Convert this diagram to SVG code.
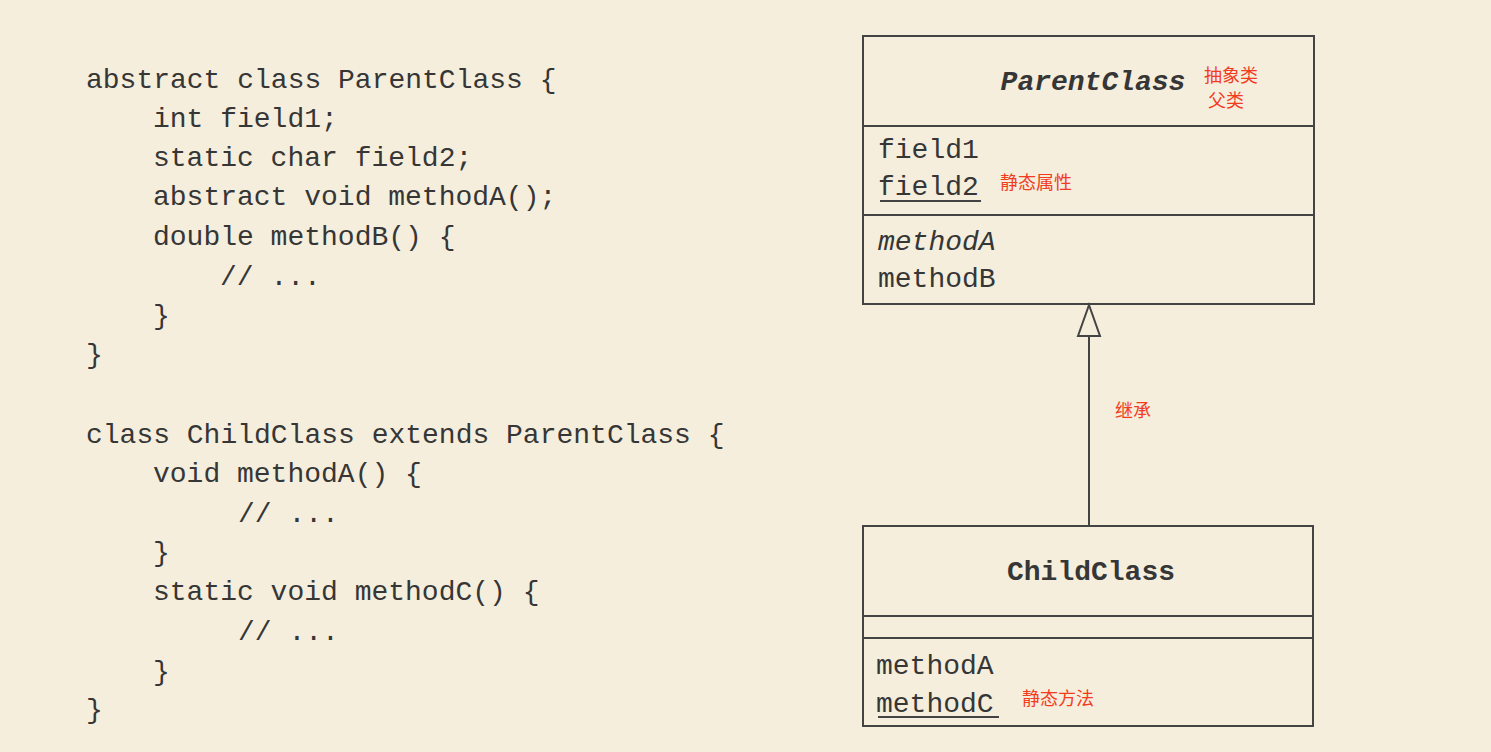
<svg xmlns="http://www.w3.org/2000/svg" width="1491" height="752" viewBox="0 0 1491 752">
  <style>
    .code { font-family: "Liberation Mono", "Courier New", monospace; font-size: 28px; fill: #363636; }
    .uml { font-family: "Liberation Mono", "Courier New", monospace; font-size: 28px; fill: #363636; }
    .title { font-weight: bold; }
    .ital { font-style: italic; }
    .note { font-family: "Noto Sans CJK SC", "Noto Sans", sans-serif; font-size: 18px; fill: #f23c1e; }
    .box { fill: none; stroke: #444; stroke-width: 2; }
    .ln { stroke: #444; stroke-width: 2; fill: none; }
    .ul { stroke: #444; stroke-width: 2; }
  </style>
  <rect x="0" y="0" width="1491" height="752" fill="#f5eedd"/>

  <g id="code-parent">
    <text class="code" x="86" y="88">abstract class ParentClass {</text>
    <text class="code" x="153" y="127">int field1;</text>
    <text class="code" x="153" y="166">static char field2;</text>
    <text class="code" x="153" y="205">abstract void methodA();</text>
    <text class="code" x="153" y="245">double methodB() {</text>
    <text class="code" x="220" y="285">// ...</text>
    <text class="code" x="153" y="324">}</text>
    <text class="code" x="86" y="363">}</text>
  </g>

  <g id="code-child">
    <text class="code" x="86" y="443">class ChildClass extends ParentClass {</text>
    <text class="code" x="153" y="482">void methodA() {</text>
    <text class="code" x="238" y="522">// ...</text>
    <text class="code" x="153" y="561">}</text>
    <text class="code" x="153" y="600">static void methodC() {</text>
    <text class="code" x="238" y="640">// ...</text>
    <text class="code" x="153" y="680">}</text>
    <text class="code" x="86" y="718">}</text>
  </g>

  <g id="ParentClass">
    <rect class="box" x="863" y="36" width="451" height="268"/>
    <line class="ln" x1="863" y1="126" x2="1314" y2="126"/>
    <line class="ln" x1="863" y1="215" x2="1314" y2="215"/>
    <text class="uml title ital" x="1093" y="90" text-anchor="middle">ParentClass</text>
    <text class="note" x="1204" y="82">抽象类</text>
    <text class="note" x="1208" y="107">父类</text>
    <text class="uml" x="878" y="158">field1</text>
    <text class="uml" x="878" y="195">field2</text>
    <line class="ul" x1="880" y1="201" x2="981" y2="201"/>
    <text class="note" x="1000" y="189">静态属性</text>
    <text class="uml ital" x="878" y="250">methodA</text>
    <text class="uml" x="878" y="287">methodB</text>
  </g>

  <g id="ChildClass">
    <rect class="box" x="863" y="526" width="450" height="200"/>
    <line class="ln" x1="863" y1="616" x2="1313" y2="616"/>
    <line class="ln" x1="863" y1="638" x2="1313" y2="638"/>
    <text class="uml title" x="1091" y="580" text-anchor="middle">ChildClass</text>
    <text class="uml" x="876" y="674">methodA</text>
    <text class="uml" x="876" y="712">methodC</text>
    <line class="ul" x1="878" y1="717" x2="999" y2="717"/>
    <text class="note" x="1022" y="705">静态方法</text>
  </g>

  <g id="connectors">
    <line class="ln" x1="1089" y1="336" x2="1089" y2="526"/>
    <polygon class="ln" points="1089,305 1078,336 1100,336"/>
    <text class="note" x="1115" y="417">继承</text>
  </g>
</svg>
